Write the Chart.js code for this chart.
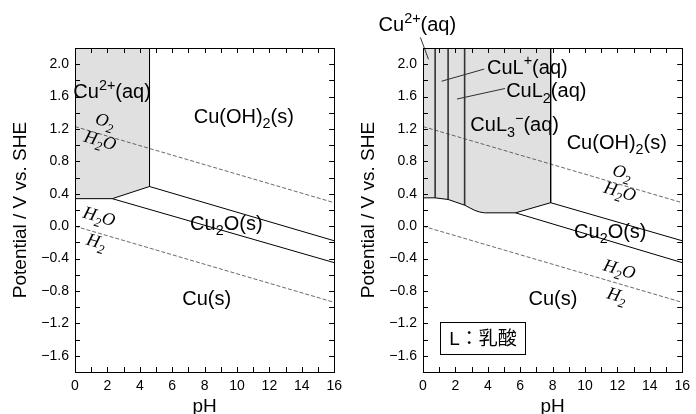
<!DOCTYPE html>
<html>
<head>
<meta charset="utf-8">
<script src="https://cdn.jsdelivr.net/npm/chart.js@4.4.0/dist/chart.umd.min.js"></script>
<style>
  body { margin: 0; background: #fff; }
  .panel { position: absolute; top: 0; width: 348px; height: 414px; }
</style>
</head>
<body>
<div class="panel" style="left:0"><canvas id="cuWater" width="348" height="414"></canvas></div>
<div class="panel" style="left:348px"><canvas id="cuLactate" width="348" height="414"></canvas></div>
<script>
const PH_MIN = 0, PH_MAX = 16, E_MIN = -1.8, E_MAX = 2.2;

// water stability limits
const waterPh = [0, 16];
const oxygenE = [1.23, 0.29];
const hydrogenE = [0.0, -0.94];

// Cu-H2O system
const cuBoundPh = [0, 2.3, 4.6];
const cuBoundE = [0.34, 0.34, 0.49];
const cuHydroxidePh = [4.6, 4.6, 16];
const cuHydroxideE = [2.2, 0.49, -0.18];
const cuOxidePh = [2.3, 16];
const cuOxideE = [0.34, -0.45];

// Cu-lactate-H2O system
const lacBoundPh = [0, 0.75, 1.55, 2.57, 2.9, 3.2, 3.5, 3.8, 5.71, 7.88];
const lacBoundE = [0.35, 0.35, 0.33, 0.26, 0.225, 0.195, 0.175, 0.165, 0.165, 0.29];
const lacSplitPh = [0.75, 1.55, 2.57];
const lacSplitE = [0.35, 0.33, 0.26];
const lacHydroxidePh = [7.88, 7.88, 16];
const lacHydroxideE = [2.2, 0.29, -0.18];
const lacOxidePh = [5.71, 16];
const lacOxideE = [0.165, -0.45];

// leader lines for the crowded complex labels [ph0, e0, ph1, e1]
const lacLeaders = [
  [-0.16, 2.33, 0.34, 2.06],
  [3.78, 1.94, 1.15, 1.79],
  [5.06, 1.70, 2.10, 1.57]
];

// species labels: parts are [text, 'sub'|'sup'|undefined]
const cuLabels = [
  { parts: [['Cu'], ['2+', 'sup'], ['(aq)']], ph: 2.29, e: 1.67 },
  { parts: [['Cu(OH)'], ['2', 'sub'], ['(s)']], ph: 10.42, e: 1.36 },
  { parts: [['Cu'], ['2', 'sub'], ['O(s)']], ph: 9.34, e: 0.04 },
  { parts: [['Cu(s)']], ph: 8.13, e: -0.88 }
];
const cuWaterLabels = [
  { parts: [['O'], ['2', 'sub']], ph: 1.87, e: 1.31 },
  { parts: [['H'], ['2', 'sub'], ['O']], ph: 1.57, e: 1.07 },
  { parts: [['H'], ['2', 'sub'], ['O']], ph: 1.51, e: 0.13 },
  { parts: [['H'], ['2', 'sub']], ph: 1.33, e: -0.18 }
];
const lacLabels = [
  { parts: [['Cu'], ['2+', 'sup'], ['(aq)']], ph: -0.35, e: 2.50 },
  { parts: [['CuL'], ['+', 'sup'], ['(aq)']], ph: 6.44, e: 1.97 },
  { parts: [['CuL'], ['2', 'sub'], ['(aq)']], ph: 7.61, e: 1.68 },
  { parts: [['CuL'], ['3', 'sub'], ['\u2212', 'sup'], ['(aq)']], ph: 5.66, e: 1.26 },
  { parts: [['Cu(OH)'], ['2', 'sub'], ['(s)']], ph: 11.96, e: 1.04 },
  { parts: [['Cu'], ['2', 'sub'], ['O(s)']], ph: 11.56, e: -0.06 },
  { parts: [['Cu(s)']], ph: 8.02, e: -0.88 }
];
const lacWaterLabels = [
  { parts: [['O'], ['2', 'sub']], ph: 12.32, e: 0.675 },
  { parts: [['H'], ['2', 'sub'], ['O']], ph: 12.17, e: 0.44 },
  { parts: [['H'], ['2', 'sub'], ['O']], ph: 12.14, e: -0.52 },
  { parts: [['H'], ['2', 'sub']], ph: 11.99, e: -0.845 }
];
const lacKey = { text: 'L\uFF1A\u4E73\u9178', ph0: 1.05, ph1: 6.28, e0: -1.177, e1: -1.572 };

const SANS = '"Liberation Sans", Arial, Helvetica, "Noto Sans CJK JP", sans-serif';
const SERIF = '"Liberation Serif", "Times New Roman", serif';

const pts = (xs, ys) => xs.map((x, i) => ({ x, y: ys[i] }));

function drawRich(ctx, parts, cx, cy, size, font) {
  const fontFor = k => font.replace('SIZE', (k ? size * 0.72 : size) + 'px');
  let total = 0;
  const widths = parts.map(([s, k]) => {
    ctx.font = fontFor(k);
    const w = ctx.measureText(s).width;
    total += w;
    return w;
  });
  let x = cx - total / 2;
  const base = cy + size * 0.36;
  ctx.textBaseline = 'alphabetic';
  ctx.textAlign = 'left';
  parts.forEach(([s, k], i) => {
    ctx.font = fontFor(k);
    const dy = k === 'sub' ? size * 0.26 : k === 'sup' ? -size * 0.42 : 0;
    ctx.fillText(s, x, base + dy);
    x += widths[i];
  });
}

// frame, inward ticks and text annotations
const annotations = {
  id: 'annotations',
  afterDatasetsDraw(chart, args, opts) {
    const { ctx, chartArea: a, scales: { x, y } } = chart;
    ctx.save();
    ctx.strokeStyle = '#000';
    ctx.lineWidth = 1;
    ctx.beginPath();
    x.ticks.forEach(t => {
      const px = Math.round(x.getPixelForValue(t.value)) + 0.5;
      ctx.moveTo(px, a.bottom); ctx.lineTo(px, a.bottom - 5);
      ctx.moveTo(px, a.top); ctx.lineTo(px, a.top + 5);
    });
    y.ticks.forEach(t => {
      const py = Math.round(y.getPixelForValue(t.value)) + 0.5;
      ctx.moveTo(a.left, py); ctx.lineTo(a.left + 5, py);
      ctx.moveTo(a.right, py); ctx.lineTo(a.right - 5, py);
    });
    ctx.stroke();
    ctx.strokeRect(Math.round(a.left) + 0.5, Math.round(a.top) + 0.5,
      Math.round(a.right - a.left), Math.round(a.bottom - a.top));

    ctx.fillStyle = '#000';
    opts.labels.forEach(l => {
      drawRich(ctx, l.parts, x.getPixelForValue(l.ph), y.getPixelForValue(l.e), 20, 'SIZE ' + SANS);
    });

    // water labels follow the slope of the water lines
    const ang = Math.atan2(y.getPixelForValue(oxygenE[1]) - y.getPixelForValue(oxygenE[0]),
      x.getPixelForValue(waterPh[1]) - x.getPixelForValue(waterPh[0]));
    opts.waterLabels.forEach(l => {
      ctx.save();
      ctx.translate(x.getPixelForValue(l.ph), y.getPixelForValue(l.e));
      ctx.rotate(ang);
      drawRich(ctx, l.parts, 0, 0, 18, 'italic SIZE ' + SERIF);
      ctx.restore();
    });

    if (opts.key) {
      const k = opts.key;
      const x0 = Math.round(x.getPixelForValue(k.ph0)) + 0.5, x1 = Math.round(x.getPixelForValue(k.ph1)) + 0.5;
      const y0 = Math.round(y.getPixelForValue(k.e0)) + 0.5, y1 = Math.round(y.getPixelForValue(k.e1)) + 0.5;
      ctx.fillStyle = '#fff';
      ctx.fillRect(x0, y0, x1 - x0, y1 - y0);
      ctx.strokeRect(x0, y0, x1 - x0, y1 - y0);
      ctx.fillStyle = '#000';
      ctx.font = '19px ' + SANS;
      ctx.textAlign = 'center';
      ctx.textBaseline = 'middle';
      ctx.fillText(k.text, (x0 + x1) / 2, (y0 + y1) / 2 + 1);
    }
    ctx.restore();
  }
};

const solid = (data, extra) => Object.assign({
  data, showLine: true, pointRadius: 0, borderColor: '#000', borderWidth: 1, fill: false
}, extra);
const dashed = data => solid(data, { borderColor: '#444', borderWidth: 0.8, borderDash: [4, 2] });

function makeDiagram(id, datasets, labels, waterLabels, key, rightPad) {
  new Chart(document.getElementById(id), {
    type: 'scatter',
    data: { datasets },
    options: {
      responsive: false,
      animation: false,
      events: [],
      layout: { padding: { top: 48, right: rightPad, left: 0, bottom: 0 } },
      plugins: {
        legend: { display: false },
        tooltip: { enabled: false },
        filler: { drawTime: 'beforeDatasetsDraw' },
        annotations: { labels, waterLabels, key }
      },
      scales: {
        x: {
          type: 'linear', min: PH_MIN, max: PH_MAX,
          grid: { display: false, drawTicks: false },
          border: { display: false },
          ticks: {
            stepSize: 1, autoSkip: false, maxRotation: 0, padding: 6,
            color: '#000', font: { family: SANS, size: 14 },
            callback: v => (v % 2 === 0 ? String(v) : '')
          },
          title: { display: true, text: 'pH', color: '#000', font: { family: SANS, size: 19, lineHeight: 0.8 }, padding: { top: 0, bottom: 0 } },
          afterFit: s => { s.height = 42; }
        },
        y: {
          type: 'linear', min: E_MIN, max: E_MAX,
          grid: { display: false, drawTicks: false },
          border: { display: false },
          ticks: {
            stepSize: 0.2, autoSkip: false, padding: 6,
            color: '#000', font: { family: SANS, size: 14 },
            callback: v => {
              const n = Math.round(v * 10);
              return n % 4 === 0 ? (n / 10).toFixed(1).replace('-', '\u2212') : '';
            }
          },
          title: { display: true, text: 'Potential / V vs. SHE', color: '#000', font: { family: SANS, size: 19, lineHeight: 1 }, padding: { top: 11, bottom: 0 } },
          afterFit: s => { s.width = 75; }
        }
      }
    },
    plugins: [annotations]
  });
}

makeDiagram('cuWater', [
  solid(pts(cuBoundPh, cuBoundE), { fill: 'end', backgroundColor: '#e0e0e0' }),
  solid(pts(cuHydroxidePh, cuHydroxideE)),
  solid(pts(cuOxidePh, cuOxideE)),
  dashed(pts(waterPh, oxygenE)),
  dashed(pts(waterPh, hydrogenE))
], cuLabels, cuWaterLabels, null, 8);

makeDiagram('cuLactate', [
  solid(pts(lacBoundPh, lacBoundE), { fill: 'end', backgroundColor: '#e0e0e0' }),
  ...lacSplitPh.map((ph, i) => solid(pts([ph, ph], [lacSplitE[i], E_MAX]), { borderColor: '#333', borderWidth: 1.6 })),
  solid(pts(lacHydroxidePh, lacHydroxideE)),
  solid(pts(lacOxidePh, lacOxideE)),
  dashed(pts(waterPh, oxygenE)),
  dashed(pts(waterPh, hydrogenE)),
  ...lacLeaders.map(l => solid(pts([l[0], l[2]], [l[1], l[3]]), { borderWidth: 0.8, clip: false }))
], lacLabels, lacWaterLabels, lacKey, 10);
</script>
</body>
</html>
